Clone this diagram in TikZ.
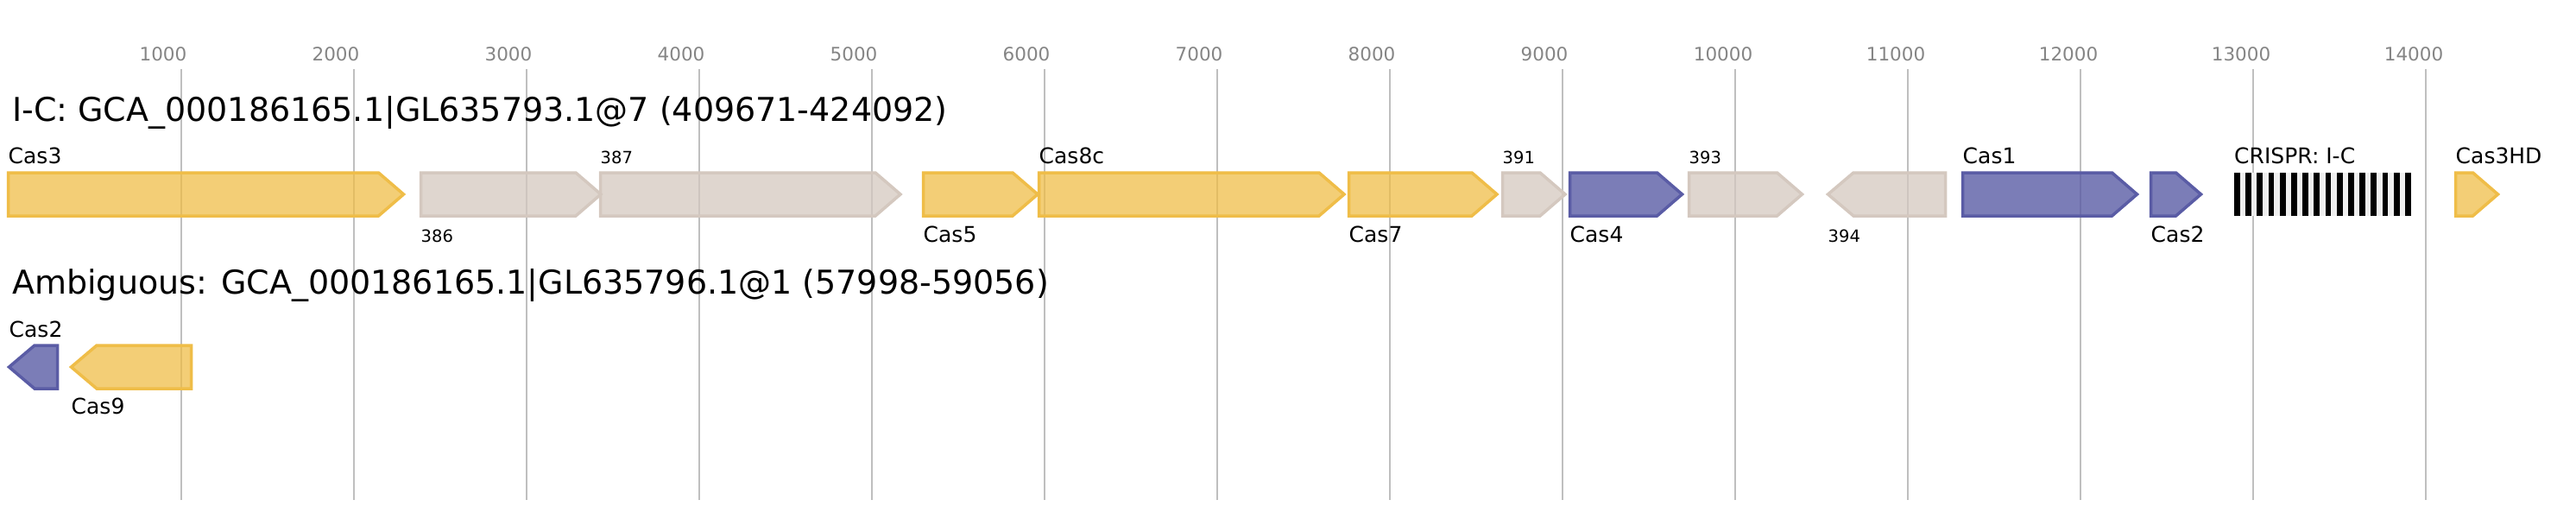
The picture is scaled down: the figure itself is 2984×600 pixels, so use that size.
\documentclass[tikz,border=0pt]{standalone}
\usepackage{fontspec}
\setmainfont{DejaVu Sans}
\usepackage{tikz}
\definecolor{intcol}{HTML}{EFBD48}
\definecolor{adacol}{HTML}{5A5CA5}
\definecolor{othcol}{HTML}{D4C8BF}
\definecolor{gridcol}{HTML}{BFBFBF}
\definecolor{tickcol}{HTML}{858585}
\definecolor{crisprbg}{HTML}{EFEFEF}
\tikzset{gridline/.style = {draw=gridcol, line width=2}}
\tikzset{intgene/.style = {draw=intcol, fill=intcol, fill opacity=0.75, line width=3.5}}
\tikzset{adagene/.style = {draw=adacol, fill=adacol, fill opacity=0.8, line width=3.5}}
\tikzset{othgene/.style = {draw=othcol, fill=othcol, fill opacity=0.75, line width=3.5}}
\tikzset{lbl/.style = {anchor=base west, inner sep=0, font=\fontsize{25}{30}\selectfont}}
\tikzset{lblsmall/.style = {anchor=base west, inner sep=0, font=\fontsize{19.5}{23}\selectfont}}
\tikzset{ticklbl/.style = {anchor=base, inner sep=0, text=tickcol, font=\fontsize{21.5}{26}\selectfont}}
\tikzset{rowtitle/.style = {anchor=base west, inner sep=0, font=\fontsize{38}{45}\selectfont}}

\begin{document}
\begin{tikzpicture}[x=1pt, y=-1pt]
    \useasboundingbox (0, 0) rectangle (2984, 600);
    \foreach \k in {1,...,14} {
      \draw [gridline] ({10 + 200*\k}, 80) -- ({10 + 200*\k}, 579);
      \pgfmathsetmacro{\off}{\k < 10 ? 21 : 14}
      \node [ticklbl] (t\k) at ({10 + 200*\k - \off}, 70) {\the\numexpr\k*1000\relax};
    }

    \node [rowtitle] (title1) at (14, 140) {I-C: GCA\_000186165.1|GL635793.1@7 (409671-424092)};
    \node [rowtitle] (title2) at (14, 340) {Ambiguous: GCA\_000186165.1|GL635796.1@1 (57998-59056)};

    % forward genes: start / tip / top
    \foreach \a/\b/\y in {9.5/467.5/200, 1069.5/1202/200, 1203.5/1557/200, 1562.5/1734/200, 2844.5/2893.5/200}
      \draw [intgene] (\a, \y) -- ({\b - 29}, \y) -- (\b, {\y + 25}) -- ({\b - 29}, {\y + 50}) -- (\a, {\y + 50}) -- cycle;
    \foreach \a/\b/\y in {1818.5/1948.5/200, 2273.5/2475.5/200, 2491.5/2549.5/200}
      \draw [adagene] (\a, \y) -- ({\b - 29}, \y) -- (\b, {\y + 25}) -- ({\b - 29}, {\y + 50}) -- (\a, {\y + 50}) -- cycle;
    \foreach \a/\b/\y in {487.5/696/200, 695.5/1043/200, 1740.5/1813/200, 1956.5/2087.5/200}
      \draw [othgene] (\a, \y) -- ({\b - 29}, \y) -- (\b, {\y + 25}) -- ({\b - 29}, {\y + 50}) -- (\a, {\y + 50}) -- cycle;

    % reverse genes: tip / end / top
    \draw [othgene] (2117.5, 225) -- (2147, 200) -- (2253.5, 200) -- (2253.5, 250) -- (2147, 250) -- cycle;
    \draw [adagene] (10.5, 425) -- (40, 400) -- (66.5, 400) -- (66.5, 450) -- (40, 450) -- cycle;
    \draw [intgene] (82.5, 425) -- (112, 400) -- (221.5, 400) -- (221.5, 450) -- (112, 450) -- cycle;

    % crispr array
    \fill [crisprbg] (2588, 200) rectangle (2793, 250);
    \foreach \i in {0,...,15}
      \fill [black] ({2588 + 13.2*\i}, 200) rectangle ({2594.7 + 13.2*\i}, 250);

    \node [lbl] (lcas3) at (9.5, 189) {Cas3};
    \node [lblsmall] (l386) at (487.5, 280) {386};
    \node [lblsmall] (l387) at (695.5, 189) {387};
    \node [lbl] (lcas5) at (1069.5, 280) {Cas5};
    \node [lbl] (lcas8c) at (1203.5, 189) {Cas8c};
    \node [lbl] (lcas7) at (1562.5, 280) {Cas7};
    \node [lblsmall] (l391) at (1740.5, 189) {391};
    \node [lbl] (lcas4) at (1818.5, 280) {Cas4};
    \node [lblsmall] (l393) at (1956.5, 189) {393};
    \node [lblsmall] (l394) at (2117.5, 280) {394};
    \node [lbl] (lcas1) at (2273.5, 189) {Cas1};
    \node [lbl] (lcas2) at (2491.5, 280) {Cas2};
    \node [lbl] (lcrispr) at (2588, 189) {CRISPR: I-C};
    \node [lbl] (lcas3hd) at (2844.5, 189) {Cas3HD};

    \node [lbl] (lcas2b) at (10.5, 390) {Cas2};
    \node [lbl] (lcas9) at (82.5, 479) {Cas9};
  \end{tikzpicture}
\end{document}
